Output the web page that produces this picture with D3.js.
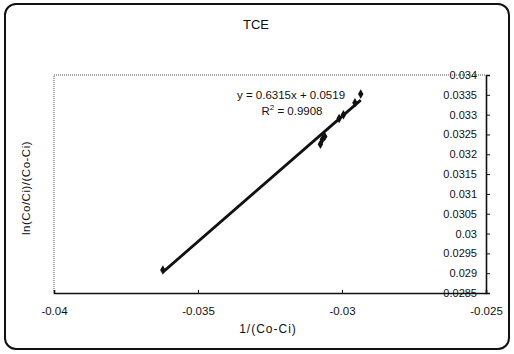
<!DOCTYPE html>
<html><head><meta charset="utf-8">
<script src="https://cdn.jsdelivr.net/npm/d3@7"></script>
<style>
html,body{margin:0;padding:0;background:#fff;}
svg{display:block;font-family:"Liberation Sans",Arial,sans-serif;}
</style></head>
<body>
<svg id="chart" width="514" height="354"></svg>
<script>
const title = "TCE";
const xLabel = "1/(Co-Ci)";
const yLabel = "ln(Co/Ci)/(Co-Ci)";
const xValues = [-0.03622, -0.03075, -0.03068, -0.03060, -0.03010, -0.02995, -0.02955, -0.02935];
const yValues = [0.02908, 0.03225, 0.03238, 0.03245, 0.03290, 0.03300, 0.03330, 0.03352];
const slope = 0.6315, intercept = 0.0519;
const eqText = "y = 0.6315x + 0.0519";
const r2Value = "0.9908";
const xTicks = [-0.04, -0.035, -0.03, -0.025];
const xTickLabels = ["-0.04", "-0.035", "-0.03", "-0.025"];
const yTicks = [0.034, 0.0335, 0.033, 0.0325, 0.032, 0.0315, 0.031, 0.0305, 0.03, 0.0295, 0.029, 0.0285];
const yTickLabels = ["0.034", "0.0335", "0.033", "0.0325", "0.032", "0.0315", "0.031", "0.0305", "0.03", "0.0295", "0.029", "0.0285"];

const svg = d3.select("#chart");
const L = 54, R = 486, T = 75, B = 293;
const x = d3.scaleLinear().domain([-0.04, -0.025]).range([L, R]);
const y = d3.scaleLinear().domain([0.0285, 0.034]).range([B, T]);
const ink = "#111";

// outer frame
svg.append("rect").attr("x", 5).attr("y", 4).attr("width", 504).attr("height", 345)
  .attr("rx", 11).attr("fill", "none").attr("stroke", ink).attr("stroke-width", 2);

// title
svg.append("text").attr("x", 256).attr("y", 29).attr("text-anchor", "middle")
  .attr("font-size", 13).attr("fill", ink).text(title);

// plot area dotted edges (left, top)
svg.append("path").attr("d", `M${L},${B}V${T}H${R}`).attr("fill", "none")
  .attr("stroke", "#555").attr("stroke-width", 1).attr("stroke-dasharray", "1,1");

// x axis
const xAxis = d3.axisBottom(x).tickValues(xTicks).tickSize(-3).tickFormat((d, i) => xTickLabels[i]);
const gx = svg.append("g").attr("transform", `translate(0,${B})`).call(xAxis);
gx.select(".domain").attr("stroke", ink).attr("stroke-width", 1.6);
gx.selectAll(".tick line").attr("stroke", ink);
gx.selectAll(".tick text").attr("font-size", 11.5).attr("fill", ink).attr("dy", "1.65em")
  .attr("font-family", "Liberation Sans, Arial, sans-serif");

// y axis at right (x = -0.025), labels inside on the left
const yAxis = d3.axisRight(y).tickValues(yTicks).tickSize(4).tickFormat((d, i) => yTickLabels[i]);
const gy = svg.append("g").attr("transform", `translate(${R},0)`).call(yAxis);
gy.select(".domain").attr("stroke", ink).attr("stroke-width", 1.6);
gy.selectAll(".tick line").attr("stroke", ink);
gy.selectAll(".tick text").attr("font-size", 11).attr("fill", ink)
  .attr("x", -9).attr("text-anchor", "end")
  .attr("font-family", "Liberation Sans, Arial, sans-serif");

// axis titles
svg.append("text").attr("x", 268).attr("y", 333).attr("text-anchor", "middle")
  .attr("font-size", 12).attr("letter-spacing", 1).attr("fill", ink).text(xLabel);
svg.append("text").attr("transform", "translate(30,188) rotate(-90)").attr("text-anchor", "middle")
  .attr("font-size", 11.5).attr("letter-spacing", 0.5).attr("fill", ink).text(yLabel);

// trendline
const xmin = d3.min(xValues), xmax = d3.max(xValues);
svg.append("line")
  .attr("x1", x(xmin)).attr("y1", y(slope * xmin + intercept))
  .attr("x2", x(xmax)).attr("y2", y(slope * xmax + intercept))
  .attr("stroke", ink).attr("stroke-width", 2.8);

// points
const pts = xValues.map((v, i) => [v, yValues[i]]);
svg.append("g").selectAll("path").data(pts).join("path")
  .attr("transform", d => `translate(${x(d[0])},${y(d[1])})`)
  .attr("d", d3.symbol().type(d3.symbolDiamond).size(26))
  .attr("fill", ink);

// equation
svg.append("text").attr("x", 291).attr("y", 99).attr("text-anchor", "middle")
  .attr("font-size", 11.5).attr("fill", ink).text(eqText);
const r2 = svg.append("text").attr("x", 292).attr("y", 115).attr("text-anchor", "middle")
  .attr("font-size", 11.5).attr("fill", ink);
r2.append("tspan").text("R");
r2.append("tspan").attr("font-size", 8).attr("dy", -5).text("2");
r2.append("tspan").attr("dy", 5).text(" = " + r2Value);
</script>
</body></html>
